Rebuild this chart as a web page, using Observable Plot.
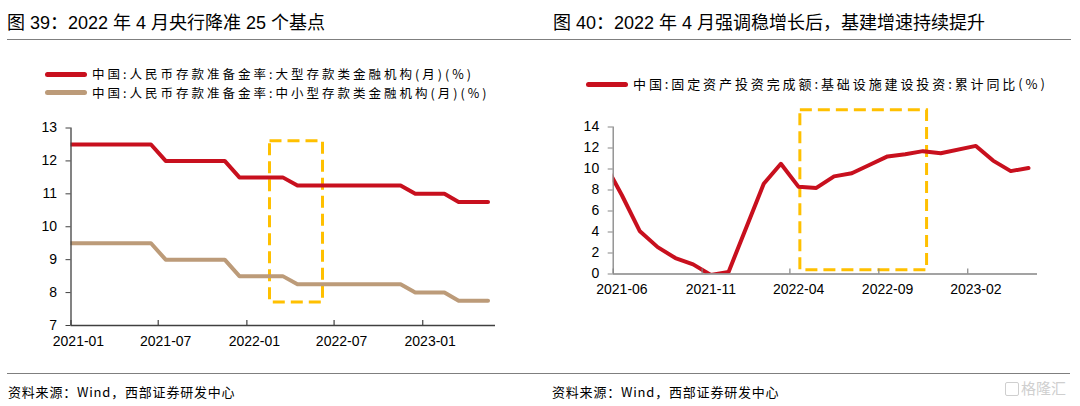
<!DOCTYPE html>
<html><head><meta charset="utf-8">
<script src="https://cdn.jsdelivr.net/npm/d3@7"></script>
<script src="https://cdn.jsdelivr.net/npm/@observablehq/plot@0.6"></script>
<style>
body{margin:0;background:#fff;}
#page{position:relative;width:1080px;height:406px;overflow:hidden;background:#fff;font-family:"Liberation Sans","Noto Sans CJK SC",sans-serif;}
.abs{position:absolute;white-space:nowrap;}
.title{font-size:18px;line-height:18px;color:#000;}
.hr{position:absolute;height:0;border-top:1.5px solid #7f7f7f;}
.leg{font-family:"Noto Sans CJK SC",sans-serif;font-size:12.5px;line-height:14px;letter-spacing:3px;color:#000;}
.legR{font-family:"Noto Sans CJK SC",sans-serif;font-size:13px;line-height:14px;letter-spacing:2.9px;color:#000;}
.sw{position:absolute;height:5px;border-radius:2.5px;}
.src{font-family:"Noto Sans CJK SC",sans-serif;font-size:13px;line-height:14px;letter-spacing:0.8px;color:#000;}
.plot{position:absolute;}
</style></head>
<body><div id="page">
  <div class="abs title" style="left:7px;top:14px;">图 39：2022 年 4 月央行降准 25 个基点</div>
  <div class="abs title" style="left:553px;top:14px;">图 40：2022 年 4 月强调稳增长后，基建增速持续提升</div>
  <div class="hr" style="left:7px;width:1064px;top:39px;"></div>

  <div id="legL1sw" class="sw" style="left:45px;width:42px;top:71.5px;"></div>
  <div id="legL1" class="abs leg" style="left:92px;top:67px;"></div>
  <div id="legL2sw" class="sw" style="left:45px;width:42px;top:90px;"></div>
  <div id="legL2" class="abs leg" style="left:92px;top:85.5px;"></div>
  <div id="legRsw" class="sw" style="left:586px;width:42px;top:81.5px;"></div>
  <div id="legR" class="abs legR" style="left:633px;top:77px;"></div>

  <div id="chartL" class="plot" style="left:0px;top:100px;"></div>
  <div id="chartR" class="plot" style="left:540px;top:100px;"></div>

  <div class="hr" style="left:7px;width:1063px;top:373px;"></div>
  <div class="abs src" style="left:8px;top:385px;">资料来源：Wind，西部证券研发中心</div>
  <div class="abs src" style="left:552px;top:385px;">资料来源：Wind，西部证券研发中心</div>
  <div class="abs" style="left:1005px;top:382px;width:12px;height:12px;border:1.5px solid #cfcfcf;border-radius:2px;"></div>
  <div class="abs" style="left:1021px;top:380px;font-family:'Noto Sans CJK SC';font-size:15px;line-height:16px;color:#cfcfcf;">格隆汇</div>
</div>
<script>
// ---------- data ----------
const rrrMonths = ["2020-12","2021-01","2021-02","2021-03","2021-04","2021-05","2021-06","2021-07","2021-08","2021-09","2021-10","2021-11","2021-12","2022-01","2022-02","2022-03","2022-04","2022-05","2022-06","2022-07","2022-08","2022-09","2022-10","2022-11","2022-12","2023-01","2023-02","2023-03","2023-04","2023-05"];
const rrrLarge = [12.5,12.5,12.5,12.5,12.5,12.5,12.5,12.0,12.0,12.0,12.0,12.0,11.5,11.5,11.5,11.5,11.25,11.25,11.25,11.25,11.25,11.25,11.25,11.25,11.0,11.0,11.0,10.75,10.75,10.75];
const rrrSmall = [9.5,9.5,9.5,9.5,9.5,9.5,9.5,9.0,9.0,9.0,9.0,9.0,8.5,8.5,8.5,8.5,8.25,8.25,8.25,8.25,8.25,8.25,8.25,8.25,8.0,8.0,8.0,7.75,7.75,7.75];
const rrrLegend = ["中国:人民币存款准备金率:大型存款类金融机构(月)(%)", "中国:人民币存款准备金率:中小型存款类金融机构(月)(%)"];
const rrrXTicks = ["2021-01","2021-07","2022-01","2022-07","2023-01"];
const rrrYTicks = [7,8,9,10,11,12,13];
const rrrXDomain = ["2021-01","2023-06"];
const rrrYDomain = [7,13];
const rrrBoxX = ["2022-02-18","2022-06-08"];
const rrrBoxY = [7.7,12.6];

const infraMonths = ["2021-05","2021-06","2021-07","2021-08","2021-09","2021-10","2021-11","2021-12","2022-02","2022-03","2022-04","2022-05","2022-06","2022-07","2022-08","2022-09","2022-10","2022-11","2022-12","2023-02","2023-03","2023-04","2023-05"];
const infraYoY = [10.6,7.5,4.1,2.56,1.52,0.92,-0.1,0.2,8.6,10.5,8.3,8.2,9.3,9.6,10.4,11.2,11.4,11.7,11.5,12.2,10.8,9.8,10.1];
const infraLegend = "中国:固定资产投资完成额:基础设施建设投资:累计同比(%)";
const infraXTicks = ["2021-06","2021-11","2022-04","2022-09","2023-02"];
const infraYTicks = [0,2,4,6,8,10,12,14];
const infraXDomain = ["2021-06","2023-06"];
const infraYDomain = [0,14];
const infraBoxX = ["2022-04-19","2022-11-23"];
const infraBoxY = [0.35,15.6];

// ---------- styles ----------
const RED = "#C8101E", TAN = "#BC9B79", GOLD = "#FFC000";

document.getElementById("legL1").textContent = rrrLegend[0];
document.getElementById("legL2").textContent = rrrLegend[1];
document.getElementById("legR").textContent = infraLegend;
document.getElementById("legL1sw").style.background = RED;
document.getElementById("legL2sw").style.background = TAN;
document.getElementById("legRsw").style.background = RED;

function monthStart(s){ const [y,m] = s.split("-").map(Number); return new Date(Date.UTC(y, m-1, 1)); }
function monthCenter(s){ const [y,m] = s.split("-").map(Number); return new Date((Date.UTC(y,m-1,1)+Date.UTC(y,m,1))/2); }
function parseDay(s){ const [y,m,d] = s.split("-").map(Number); return new Date(Date.UTC(y,m-1,d)); }

function makeChart({months, series, xTicks, yTicks, xDomain, yDomain, boxX, boxY, width, height, margins, axisColor}) {
  const yMin = yDomain[0];
  const xd = xDomain.map(monthStart);
  const marks = [];
  const box = [{x1: parseDay(boxX[0]), x2: parseDay(boxX[1]), y1: boxY[0], y2: boxY[1]}];
  marks.push(Plot.rect(box, {x1:"x1", x2:"x2", y1:"y1", y2:"y2", fill:"none", stroke: GOLD, strokeWidth: 3, strokeDasharray: "12,6"}));
  for (const s of series) {
    const data = months.map((m,i) => ({date: monthCenter(m), v: s.values[i]}));
    marks.push(Plot.line(data, {x:"date", y:"v", stroke: s.color, strokeWidth: 4, strokeLinejoin:"round", strokeLinecap:"round", clip: true}));
  }
  marks.push(Plot.ruleY([yMin], {stroke: axisColor, strokeWidth: 1.3}));
  marks.push(Plot.ruleX([xd[0]], {stroke: axisColor, strokeWidth: 1.3}));
  const tickDates = xTicks.map(monthStart);
  marks.push(Plot.ruleX(tickDates, {x: d => d, y1: () => yMin, y2: () => yMin, insetBottom: 5, stroke: axisColor, strokeWidth: 1.2}));
  marks.push(Plot.text(xTicks, {x: d => monthCenter(d), frameAnchor: "bottom", dy: 20, text: d => d, fontSize: 14, fill: "#000"}));
  marks.push(Plot.axisY(yTicks, {tickSize: 5, tickPadding: 9, fontSize: 14, stroke: axisColor, fill: "#000", tickFormat: d => String(d)}));
  return Plot.plot({
    width, height,
    marginLeft: margins[0], marginRight: margins[1], marginTop: margins[2], marginBottom: margins[3],
    x: {type: "utc", domain: xd, axis: null},
    y: {domain: yDomain, axis: null},
    style: {fontFamily: "'Liberation Sans', Arial, sans-serif", fontSize: "14px", background: "transparent", overflow: "visible", color: "#000"},
    marks
  });
}

document.getElementById("chartL").appendChild(makeChart({
  months: rrrMonths,
  series: [{values: rrrLarge, color: RED}, {values: rrrSmall, color: TAN}],
  xTicks: rrrXTicks, yTicks: rrrYTicks, xDomain: rrrXDomain, yDomain: rrrYDomain,
  boxX: rrrBoxX, boxY: rrrBoxY,
  width: 540, height: 260, margins: [70.5, 45, 27.5, 35], axisColor: "#404040"
}));

document.getElementById("chartR").appendChild(makeChart({
  months: infraMonths,
  series: [{values: infraYoY, color: RED}],
  xTicks: infraXTicks, yTicks: infraYTicks, xDomain: infraXDomain, yDomain: infraYDomain,
  boxX: infraBoxX, boxY: infraBoxY,
  width: 540, height: 210, margins: [72.7, 43, 26.5, 36.5], axisColor: "#858585"
}));
</script>
</body></html>
